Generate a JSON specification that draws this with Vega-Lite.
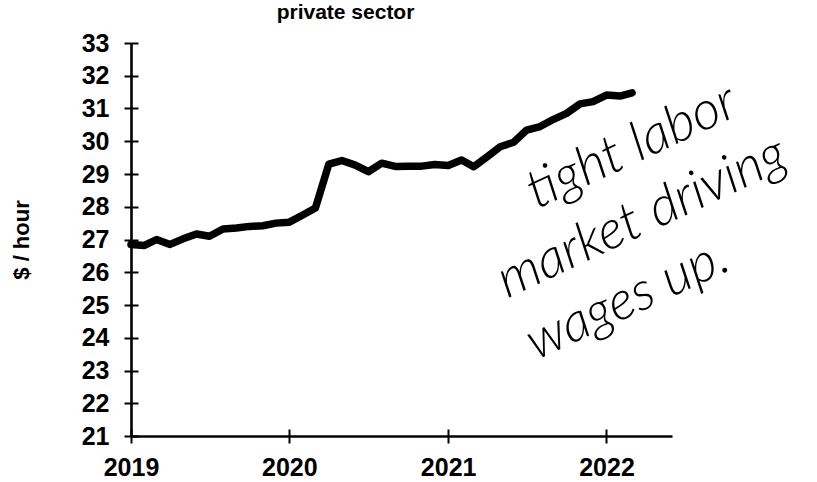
{
  "$schema": "https://vega.github.io/schema/vega-lite/v6.json",
  "autosize": "none",
  "width": 541,
  "height": 393,
  "padding": {"left": 131, "top": 43, "right": 145, "bottom": 46},
  "background": "white",
  "config": {
    "view": {"stroke": null},
    "font": "Liberation Sans",
    "axis": {
      "grid": false,
      "domainColor": "black",
      "domainWidth": 2.6,
      "tickColor": "black",
      "tickWidth": 2,
      "labelColor": "black",
      "labelFont": "Liberation Sans",
      "labelFontWeight": "bold",
      "labelFontSize": 25,
      "titleColor": "black",
      "titleFont": "Liberation Sans",
      "titleFontWeight": "bold"
    }
  },
  "title": {
    "text": "private sector",
    "font": "Liberation Sans",
    "fontSize": 21,
    "fontWeight": "bold",
    "color": "black",
    "anchor": "middle",
    "frame": "group",
    "dx": -56,
    "offset": 8
  },
  "datasets": {
    "wages": [
      {"date": "2019/01/01", "wage": 26.85},
      {"date": "2019/02/01", "wage": 26.82},
      {"date": "2019/03/01", "wage": 27.0},
      {"date": "2019/04/01", "wage": 26.85},
      {"date": "2019/05/01", "wage": 27.02},
      {"date": "2019/06/01", "wage": 27.17},
      {"date": "2019/07/01", "wage": 27.1},
      {"date": "2019/08/01", "wage": 27.32},
      {"date": "2019/09/01", "wage": 27.35},
      {"date": "2019/10/01", "wage": 27.4},
      {"date": "2019/11/01", "wage": 27.42},
      {"date": "2019/12/01", "wage": 27.5},
      {"date": "2020/01/01", "wage": 27.53},
      {"date": "2020/02/01", "wage": 27.75},
      {"date": "2020/03/01", "wage": 27.96},
      {"date": "2020/04/01", "wage": 29.3},
      {"date": "2020/05/01", "wage": 29.41},
      {"date": "2020/06/01", "wage": 29.27},
      {"date": "2020/07/01", "wage": 29.07},
      {"date": "2020/08/01", "wage": 29.33},
      {"date": "2020/09/01", "wage": 29.23},
      {"date": "2020/10/01", "wage": 29.24},
      {"date": "2020/11/01", "wage": 29.24},
      {"date": "2020/12/01", "wage": 29.29},
      {"date": "2021/01/01", "wage": 29.26},
      {"date": "2021/02/01", "wage": 29.43},
      {"date": "2021/03/01", "wage": 29.22},
      {"date": "2021/04/01", "wage": 29.53},
      {"date": "2021/05/01", "wage": 29.83},
      {"date": "2021/06/01", "wage": 29.97},
      {"date": "2021/07/01", "wage": 30.34},
      {"date": "2021/08/01", "wage": 30.45},
      {"date": "2021/09/01", "wage": 30.67},
      {"date": "2021/10/01", "wage": 30.85},
      {"date": "2021/11/01", "wage": 31.14},
      {"date": "2021/12/01", "wage": 31.21},
      {"date": "2022/01/01", "wage": 31.41},
      {"date": "2022/02/01", "wage": 31.38},
      {"date": "2022/03/01", "wage": 31.48}
    ],
    "notes": [
      {"date": "2022/03/01", "wage": 29.82, "text": "tight   labor"},
      {"date": "2022/03/24", "wage": 27.66, "text": "market   driving"},
      {"date": "2022/02/19", "wage": 25.15, "text": "wages    up."}
    ]
  },
  "resolve": {"axis": {"x": "independent", "y": "independent"}},
  "layer": [
    {
      "data": {"name": "wages"},
      "mark": {"type": "line", "color": "black", "strokeWidth": 7.5, "strokeJoin": "round", "strokeCap": "round", "clip": false},
      "encoding": {
        "x": {
          "field": "date",
          "type": "temporal",
          "scale": {"domain": [{"year": 2019, "month": 1, "date": 1}, {"year": 2022, "month": 6, "date": 1}], "nice": false},
          "axis": {
            "orient": "bottom",
            "title": null,
            "values": [{"year": 2019, "month": 1, "date": 1}, {"year": 2020, "month": 1, "date": 1}, {"year": 2021, "month": 1, "date": 1}, {"year": 2022, "month": 1, "date": 1}],
            "format": "%Y",
            "tickSize": 7,
            "labelFontSize": 25,
            "labelPadding": 12,
            "labelFlush": false,
            "labelOverlap": false
          }
        },
        "y": {
          "field": "wage",
          "type": "quantitative",
          "scale": {"domain": [21, 33], "nice": false, "zero": false},
          "axis": {
            "orient": "left",
            "title": "$ / hour",
            "titleFontSize": 22,
            "titlePadding": 48,
            "values": [21, 22, 23, 24, 25, 26, 27, 28, 29, 30, 31, 32, 33],
            "tickSize": 7,
            "labelFontSize": 25,
            "labelPadding": 15,
            "labelFlush": false,
            "labelOverlap": false
          }
        }
      }
    },
    {
      "data": {"name": "notes"},
      "mark": {"type": "text", "font": "Lato", "fontStyle": "italic", "fontWeight": 300, "fontSize": 54, "angle": -25, "align": "center", "baseline": "middle", "color": "black", "clip": false},
      "encoding": {
        "x": {
          "field": "date",
          "type": "temporal",
          "axis": {
            "orient": "bottom",
            "title": null,
            "values": [{"year": 2019, "month": 1, "date": 1}, {"year": 2020, "month": 1, "date": 1}, {"year": 2021, "month": 1, "date": 1}, {"year": 2022, "month": 1, "date": 1}],
            "labels": false,
            "domain": false,
            "tickSize": -7
          }
        },
        "y": {
          "field": "wage",
          "type": "quantitative",
          "axis": {
            "orient": "left",
            "title": null,
            "values": [21, 22, 23, 24, 25, 26, 27, 28, 29, 30, 31, 32, 33],
            "labels": false,
            "domain": false,
            "tickSize": -7
          }
        },
        "text": {"field": "text"}
      }
    }
  ]
}
